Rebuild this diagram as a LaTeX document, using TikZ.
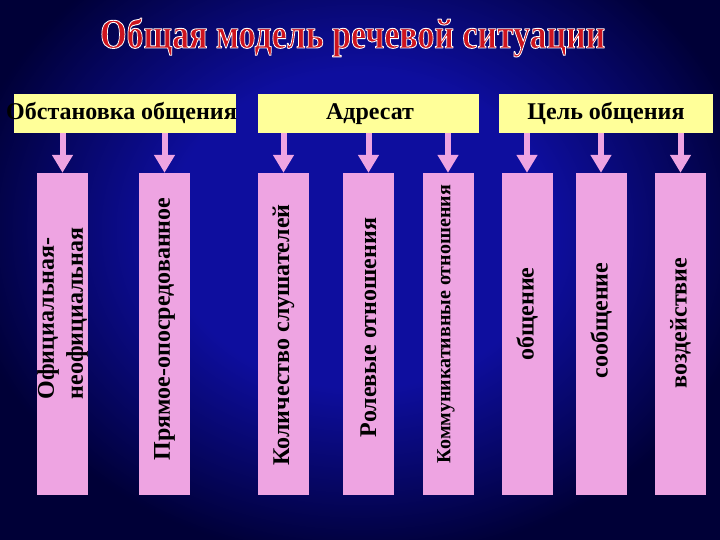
\documentclass[tikz,border=0pt]{standalone}
\usepackage{fontspec}
\setmainfont{Liberation Serif}
\usetikzlibrary{arrows.meta}
\definecolor{bgdark}{RGB}{0,0,55}
\definecolor{bgmid}{RGB}{14,14,158}
\definecolor{barpink}{RGB}{238,164,226}
\definecolor{boxyellow}{RGB}{255,255,153}
\definecolor{ttlred}{RGB}{205,20,30}
\pgfdeclareradialshading{bgshade}{\pgfpoint{0bp}{0bp}}{color(0bp)=(bgmid); color(12bp)=(bgmid); color(25bp)=(bgdark); color(50bp)=(bgdark)}
\newcommand{\ttlbox}{\resizebox{505pt}{30pt}{\special{pdf:literal direct 2 Tr 0.22 w 1 j 1 1 1 RG}Общая модель речевой ситуации\special{pdf:literal direct 0 Tr 0.4 w 0 j}}}
\begin{document}
\begin{tikzpicture}[x=1pt,y=-1pt,
  bar/.style={fill=barpink, draw=none, minimum width=51pt, minimum height=322pt, inner sep=0pt},
  hdr/.style={fill=boxyellow, draw=none, minimum height=39pt, inner sep=0pt},
  hlab/.style={font=\fontsize{24}{28}\selectfont\bfseries, text=black, anchor=base, inner sep=0pt},
  vlab/.style={font=\fontsize{24}{29}\selectfont\bfseries, text=black, rotate=90, inner sep=0pt, align=left},
  ttl/.style={anchor=base west, inner sep=0pt, font=\bfseries},
  arr/.style={draw=barpink, line width=6pt, -{Triangle[width=20pt,length=18pt]}}]
\useasboundingbox (0,0) rectangle (720,540);
\begin{scope}
  \clip (0,0) rectangle (720,540);
  \shade[shading=bgshade] (-40,-100) rectangle (760,560);
\end{scope}
% title
\node[ttl, text=ttlred] (title) at (100,48) {\ttlbox};
% header boxes
\node[hdr, minimum width=222pt] (h1) at (125,113.5) {};
\node[hdr, minimum width=221pt] (h2) at (368.5,113.5) {};
\node[hdr, minimum width=214pt] (h3) at (606,113.5) {};
\node[hlab] (l1) at (121.5,120) {Обстановка общения};
\node[hlab] (l2) at (370,120) {Адресат};
\node[hlab] (l3) at (606,120) {Цель общения};
% bars
\node[bar] (b1) at (62.5,334) {};
\node[bar] (b2) at (164.5,334) {};
\node[bar] (b3) at (283.5,334) {};
\node[bar] (b4) at (368.5,334) {};
\node[bar] (b5) at (448,334) {};
\node[bar] (b6) at (527,334) {};
\node[bar] (b7) at (601,334) {};
\node[bar] (b8) at (680.5,334) {};
% bar texts
\node[vlab] (t1) at (62.5,313.5) {Официальная-\\неофициальная};
\node[vlab] (t2) at (164.5,329) {Прямое-опосредованное};
\node[vlab] (t3) at (283.5,335) {Количество слушателей};
\node[vlab] (t4) at (368.5,327.5) {Ролевые отношения};
\node[vlab, font=\fontsize{20}{23}\selectfont\bfseries] (t5) at (446,324) {Коммуникативные отношения};
\node[vlab] (t6) at (527,314) {общение};
\node[vlab] (t7) at (601,320.5) {сообщение};
\node[vlab] (t8) at (680.5,323) {воздействие};
% arrows
\draw[arr] (b1 |- h1.south) -- (b1.north);
\draw[arr] (b2 |- h1.south) -- (b2.north);
\draw[arr] (b3 |- h2.south) -- (b3.north);
\draw[arr] (b4 |- h2.south) -- (b4.north);
\draw[arr] (b5 |- h2.south) -- (b5.north);
\draw[arr] (b6 |- h3.south) -- (b6.north);
\draw[arr] (b7 |- h3.south) -- (b7.north);
\draw[arr] (b8 |- h3.south) -- (b8.north);
\end{tikzpicture}
\end{document}
